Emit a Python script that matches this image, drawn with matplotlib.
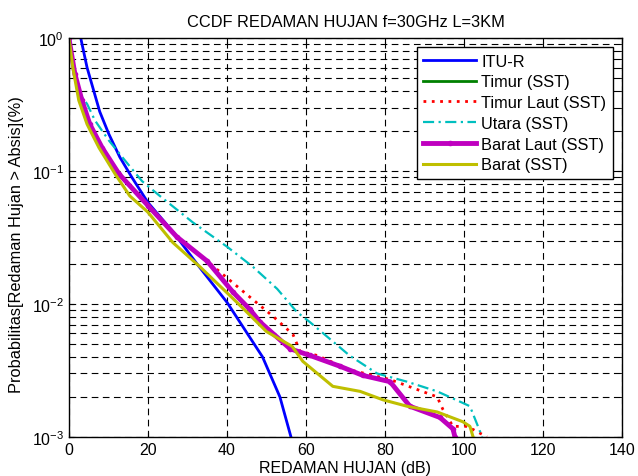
import numpy as np
import matplotlib
matplotlib.use("Agg")
import matplotlib.pyplot as plt

plt.rcParams['font.family'] = ['Liberation Sans', 'DejaVu Sans']

# data (attenuation dB, exceedance probability)
itu_x = [3, 4.6, 6.3, 7.8, 10.1, 12.9, 15.9, 20, 26.3, 33, 40, 45.8, 49, 53.4, 56.2]
itu_y = [1, 0.6, 0.4, 0.28, 0.19, 0.127, 0.09, 0.058, 0.035, 0.019, 0.0103, 0.0056, 0.004, 0.002, 0.001]

timur_x = [0, 1.5, 3.3, 5.3, 8.4, 12.7, 20, 27.3, 35, 41.5, 48.4, 56, 61, 68.6, 74.4, 81.3, 86.3, 93.9, 97.2, 97.7]
timur_y = [1, 0.54, 0.34, 0.225, 0.15, 0.095, 0.055, 0.032, 0.021, 0.0123, 0.0073, 0.0046, 0.0041, 0.0034, 0.0029, 0.0026, 0.0017, 0.0014, 0.00115, 0.001]

tlaut_x = [0, 1.5, 3.3, 5.3, 8.4, 12.7, 20, 27.3, 35, 43.3, 51.6, 56.7, 58.5, 62.8, 71, 81.3, 93.2, 94.7, 97.2, 100.8, 105.8]
tlaut_y = [1, 0.54, 0.34, 0.225, 0.15, 0.095, 0.055, 0.032, 0.021, 0.013, 0.0081, 0.0059, 0.0044, 0.0041, 0.0032, 0.0027, 0.002, 0.0016, 0.0012, 0.0012, 0.001]

utara_x = [0, 1.5, 3.3, 4.6, 6.6, 10.1, 14.2, 18.5, 23, 31.4, 40, 46.6, 52.7, 57.7, 61, 71, 78, 85.6, 93.2, 99.7, 101.5, 104.6]
utara_y = [1, 0.54, 0.36, 0.32, 0.24, 0.17, 0.12, 0.084, 0.065, 0.041, 0.027, 0.019, 0.013, 0.0087, 0.0073, 0.0041, 0.003, 0.0026, 0.0022, 0.0018, 0.0017, 0.001]

blaut_x = [0, 1.5, 3.3, 5.3, 8.4, 12.7, 20, 27.3, 35, 41.5, 45.8, 48.4, 56, 61, 68.6, 74.4, 81.3, 86.3, 93.9, 97.2, 97.7]
blaut_y = [1, 0.54, 0.34, 0.225, 0.15, 0.095, 0.055, 0.032, 0.021, 0.0123, 0.0091, 0.0073, 0.0046, 0.0041, 0.0034, 0.0029, 0.0026, 0.0017, 0.0014, 0.00115, 0.001]

barat_x = [0, 1, 2.5, 4.6, 7.6, 11.7, 15.4, 20, 26.3, 33.2, 41.5, 45, 50, 56.5, 59.2, 66.8, 73.7, 79.5, 85.6, 93.2, 99.7, 101.5, 102.3]
barat_y = [1, 0.6, 0.34, 0.225, 0.15, 0.095, 0.065, 0.049, 0.029, 0.019, 0.011, 0.0087, 0.0062, 0.0048, 0.0037, 0.0024, 0.0022, 0.0019, 0.0017, 0.00154, 0.0013, 0.0012, 0.001]

fs = 11.5

fig = plt.figure(figsize=(6.38, 4.77), dpi=100)
ax = fig.add_axes([0.108, 0.082, 0.867, 0.836])

ax.semilogy(itu_x, itu_y, color='#0000ff', lw=2, label='ITU-R')
ax.semilogy(timur_x, timur_y, color='#008000', lw=2, label='Timur (SST)')
ax.semilogy(tlaut_x, tlaut_y, color='#ff0000', lw=2, ls=(0, (1, 2)), label='Timur Laut (SST)')
ax.semilogy(utara_x, utara_y, color='#00bfbf', lw=1.6, ls=(0, (5, 2, 1, 2)), label='Utara (SST)')
ax.semilogy(blaut_x, blaut_y, color='#bf00bf', lw=3.5, marker='.', ms=6, label='Barat Laut (SST)')
ax.semilogy(barat_x, barat_y, color='#bfbf00', lw=2.2, label='Barat (SST)')

ax.set_xlim(0, 140)
ax.set_ylim(1e-3, 1)
ax.set_xticks(np.arange(0, 141, 20))
ax.grid(True, which='major', ls=(0, (6, 4)), color='k', lw=0.8)
ax.grid(True, which='minor', axis='y', ls=(0, (6, 4)), color='k', lw=0.8)
ax.tick_params(which='both', direction='in', top=True, right=True, labelsize=fs)
for s in ax.spines.values():
    s.set_linewidth(1)

ax.set_title('CCDF REDAMAN HUJAN f=30GHz L=3KM', fontsize=11.8, pad=9)
ax.set_xlabel('REDAMAN HUJAN (dB)', fontsize=fs, labelpad=2)
ax.set_ylabel('Probabilitas[Redaman Hujan > Absis](%)', fontsize=11.8)
ax.yaxis.set_label_coords(-0.082, 0.485)

leg = ax.legend(loc='upper right', fontsize=11.8, fancybox=False, framealpha=1,
                edgecolor='k', borderaxespad=0.55, handlelength=3.2, handletextpad=0.35,
                labelspacing=0.35)
leg.get_frame().set_linewidth(1)

fig.savefig('out.png', dpi=100)
